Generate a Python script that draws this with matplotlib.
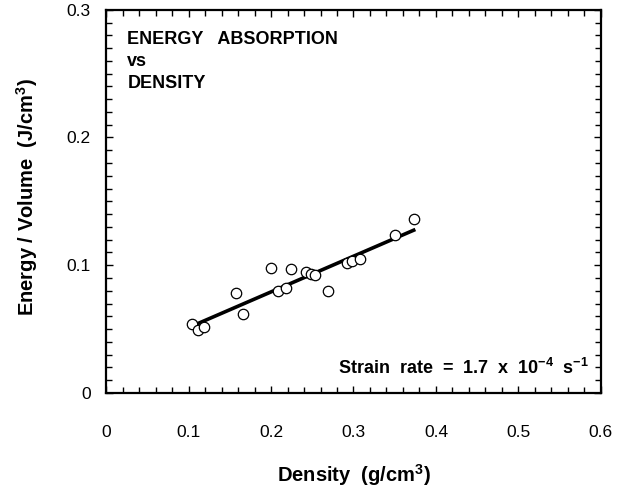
import numpy as np
import matplotlib
matplotlib.use("Agg")
from matplotlib import pyplot as plt
from matplotlib.ticker import MultipleLocator

# data
density = [0.104, 0.112, 0.119, 0.158, 0.166, 0.200, 0.209, 0.218, 0.224,
           0.243, 0.249, 0.253, 0.269, 0.292, 0.298, 0.308, 0.350, 0.373]
energy = [0.054, 0.049, 0.0515, 0.078, 0.062, 0.098, 0.080, 0.082, 0.097,
          0.095, 0.093, 0.092, 0.080, 0.102, 0.103, 0.105, 0.124, 0.136]
fit_x = [0.110, 0.375]
fit_y = [0.054, 0.128]
xticks = [0, 0.1, 0.2, 0.3, 0.4, 0.5, 0.6]
xticklabels = ['0', '0.1', '0.2', '0.3', '0.4', '0.5', '0.6']
yticks = [0, 0.1, 0.2, 0.3]
yticklabels = ['0', '0.1', '0.2', '0.3']

plt.rcParams['font.family'] = ['Liberation Sans', 'DejaVu Sans']
plt.rcParams['mathtext.fontset'] = 'custom'
plt.rcParams['mathtext.rm'] = 'Liberation Sans:bold'
plt.rcParams['mathtext.bf'] = 'Liberation Sans:bold'
plt.rcParams['mathtext.it'] = 'Liberation Sans:bold'
plt.rcParams['mathtext.default'] = 'rm'

fig = plt.figure(figsize=(6.24, 4.87), dpi=100)
ax = fig.add_axes([0.170, 0.193, 0.793, 0.787])

ax.plot(fit_x, fit_y, color='black', lw=2.6, solid_capstyle='butt', zorder=2)
ax.plot(density, energy, 'o', ms=7.5, mfc='white', mec='black', mew=0.9, zorder=3)

ax.set_xlim(0, 0.6)
ax.set_ylim(0, 0.3)
ax.set_xticks(xticks)
ax.set_xticklabels(xticklabels)
ax.set_yticks(yticks)
ax.set_yticklabels(yticklabels)
ax.xaxis.set_minor_locator(MultipleLocator(0.02))
ax.yaxis.set_minor_locator(MultipleLocator(0.01))
ax.tick_params(which='both', direction='in', top=True, right=True, width=1)
ax.tick_params(which='major', length=5)
ax.tick_params(which='minor', length=4)
ax.tick_params(axis='x', which='major', pad=23, labelsize=12.5)
ax.tick_params(axis='y', which='major', pad=11, labelsize=12.5)
for s in ax.spines.values():
    s.set_linewidth(1.6)

ax.set_xlabel('Density  (g/cm$^3$)', fontsize=14.5, fontweight='bold')
ax.set_ylabel('Energy / Volume  (J/cm$^3$)', fontsize=14.5, fontweight='bold')
ax.xaxis.set_label_coords(0.5, -0.215)
ax.xaxis.label.set_va('center')
ax.yaxis.set_label_coords(-0.160, 0.51)
ax.yaxis.label.set_va('center')

ax.text(0.043, 0.945, 'ENERGY   ABSORPTION\nvs\nDENSITY', transform=ax.transAxes,
        fontsize=13, fontweight='bold', va='top', ha='left', linespacing=1.4)
ax.text(0.975, 0.04, 'Strain  rate  =  1.7  x  10$^{-4}$  s$^{-1}$', transform=ax.transAxes,
        fontsize=13, fontweight='bold', va='bottom', ha='right')

fig.savefig('out.png', dpi=100)
